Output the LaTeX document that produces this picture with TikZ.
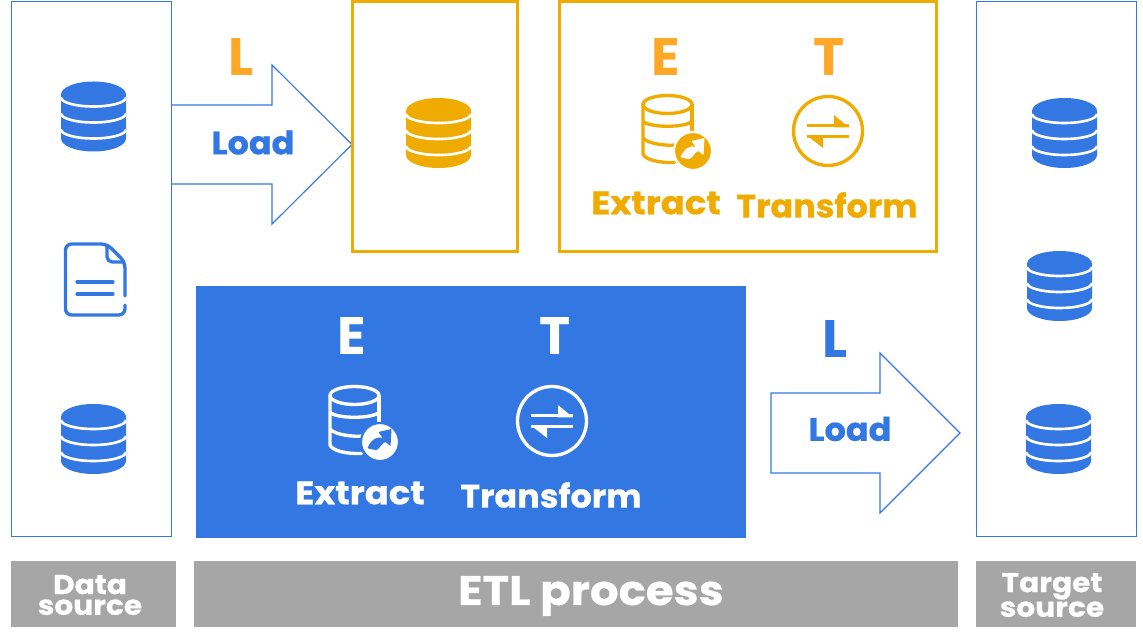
\documentclass[tikz,border=0pt]{standalone}
\usepackage{fontspec}
\setmainfont{Poppins}
\newfontfamily\anchafont[FakeStretch=1.09,FakeBold=0.6]{Poppins}
\newfontfamily\mediafont[FakeStretch=1.03,FakeBold=0.6]{Poppins}
\usepackage{xcolor}
\usetikzlibrary{calc}
\definecolor{etlazul}{RGB}{51,119,226}
\definecolor{etlambar}{RGB}{240,171,0}
\definecolor{etlletra}{RGB}{255,167,38}
\definecolor{etlgris}{RGB}{166,166,166}
\tikzset{
    caja/.style={draw=etlazul,line width=0.55pt},
    cajaamb/.style={draw=etlambar,line width=1.7pt},
    barra/.style={fill=etlgris,text=white,font=\anchafont\bfseries\fontsize{15.5}{11.8}\selectfont,align=center},
    letra/.style={font=\bfseries\fontsize{30}{30}\selectfont},
    rotulo/.style={font=\anchafont\bfseries\fontsize{18.5}{19}\selectfont},
    rotulob/.style={font=\mediafont\bfseries\fontsize{18.5}{19}\selectfont},
    flecha/.style={draw=etlazul,line width=0.65pt},
    pics/dbfill/.style={code={
        \fill[#1] (-32.5,-22) arc (180:360:32.5 and 13) -- (32.5,22) arc (0:180:32.5 and 13) -- cycle;
        \draw[white,line width=1.5pt] (-32.5,-19) arc (180:360:32.5 and -9);
        \draw[white,line width=1.5pt] (-32.5,-3) arc (180:360:32.5 and -9);
        \draw[white,line width=1.5pt] (-32.5,13) arc (180:360:32.5 and -9);
    }},
    pics/dbline/.style 2 args={code={
        \draw[#1,line width=1.9pt,line join=round] (0,-24.5) ellipse (24.5 and 9);
        \draw[#1,line width=1.9pt,line cap=round] (-24.5,-24.5) -- (-24.5,25) .. controls (-22,31) and (-8,34) .. (7,33.5);
        \draw[#1,line width=1.9pt] (24.5,-24.5) -- (24.5,6);
        \draw[#1,line width=1.9pt] (-24.5,-8) .. controls (-20,-1) and (20,-1) .. (24.5,-8);
        \draw[#1,line width=1.9pt] (-24.5,9) .. controls (-20,15) and (0,17) .. (8,16);
        % insignia
        \filldraw[fill=#1,draw=#2,line width=1.2pt] (25.5,22) circle (19);
        \fill[#2] (13,28) .. controls (17,19) and (23,16) .. (28,18) -- (24,12) -- (37,9) -- (36,26) -- (31,22) .. controls (27,23) and (26,28) .. (22,30) .. controls (19,30) and (15,29) .. (13,28) -- cycle;
    }},
    pics/cambio/.style={code={
        \draw[#1,line width=1.9pt] (0,0) circle (34.5);
        \fill[#1] (-21,-6.5) rectangle (21,-3.5);
        \fill[#1] (6,-16) -- (21,-3.5) -- (6,-3.5) -- cycle;
        \fill[#1] (-21,4.5) rectangle (21,7.5);
        \fill[#1] (-21,4.5) -- (-5,4.5) -- (-5,17) -- cycle;
    }},
}
\begin{document}
\begin{tikzpicture}[x=0.02cm,y=-0.02cm]
    \useasboundingbox (0,0) rectangle (1143,644);
    % fuente y destino
    \node[caja,minimum width=160*0.02cm,minimum height=535*0.02cm] (fuente) at (91,268.5) {};
    \node[caja,minimum width=160*0.02cm,minimum height=535*0.02cm] (destino) at (1056,268.5) {};
    \pic at (93.5,116.5) {dbfill=etlazul};
    \pic at (93.5,439) {dbfill=etlazul};
    \pic at (1064.5,133) {dbfill=etlazul};
    \pic at (1059.5,286) {dbfill=etlazul};
    \pic at (1058.5,439) {dbfill=etlazul};
    % documento
    \draw[etlazul,line width=1.9pt,line cap=round,rounded corners=3.5pt] (125,296) -- (125,262) -- (107,244) -- (65.5,244) -- (65.5,315) -- (125,315) -- (125,305);
    \draw[etlazul,line width=1.9pt,rounded corners=3pt] (107,244) -- (107,262) -- (125,262);
    \draw[etlazul,line width=1.9pt,line cap=round] (77,282) -- (113,282);
    \draw[etlazul,line width=1.9pt,line cap=round] (77,294) -- (113,294);
    % ELT arriba
    \draw[flecha] (171,105) -- (272,105) -- (272,65) -- (352,144.5) -- (272,224) -- (272,184) -- (171,184);
    \node[letra,text=etlletra] (letraL) at (241,57) {L};
    \node[rotulob,text=etlazul] (cargaA) at (253,142.5) {Load};
    \node[cajaamb,minimum width=165*0.02cm,minimum height=250*0.02cm] (almacen) at (435,126.5) {};
    \pic at (438.5,133) {dbfill=etlambar};
    \node[cajaamb,minimum width=377*0.02cm,minimum height=250*0.02cm] (procesoA) at (748,126.5) {};
    \node[letra,text=etlletra] (letraEA) at (666,57) {E};
    \node[letra,text=etlletra] (letraTA) at (829,57) {T};
    \pic at (667.5,129) {dbline={etlambar}{white}};
    \pic at (828,131) {cambio=etlambar};
    \node[rotulo,text=etlambar] (extraeA) at (656,203) {Extract};
    \node[rotulob,text=etlambar] (transfA) at (827,205) {Transform};
    % ETL abajo
    \node[fill=etlazul,minimum width=550*0.02cm,minimum height=252*0.02cm] (procesoB) at (471,412) {};
    \node[letra,text=white] (letraEB) at (352,336) {E};
    \node[letra,text=white] (letraTB) at (555,336) {T};
    \pic at (354.5,420) {dbline={white}{etlazul}};
    \pic at (552,421) {cambio=white};
    \node[rotulo,text=white] (extraeB) at (360,493) {Extract};
    \node[rotulob,text=white] (transfB) at (551,495) {Transform};
    \draw[flecha] (771,393) -- (880,393) -- (880,353) -- (960,433) -- (880,513) -- (880,473) -- (771,473) -- cycle;
    \node[letra,text=etlazul] (letraLB) at (835,339) {L};
    \node[rotulob,text=etlazul] (cargaB) at (850,429) {Load};
    % barras
    \node[barra,minimum width=165*0.02cm,minimum height=66*0.02cm] (barraF) at (93.5,594) {};
    \node[barra,minimum width=764*0.02cm,minimum height=66*0.02cm] (barraP) at (576,594) {};
    \node[barra,minimum width=160*0.02cm,minimum height=66*0.02cm] (barraD) at (1056,594) {};
    \node[barra,fill=none] (textoF) at (90,595) {Data\\source};
    \node[barra,fill=none,font=\anchafont\bfseries\fontsize{23.5}{24}\selectfont] (textoP) at (591,596) {ETL process};
    \node[barra,fill=none] (textoD) at (1052,595) {Target\\source};
\end{tikzpicture}
\end{document}
